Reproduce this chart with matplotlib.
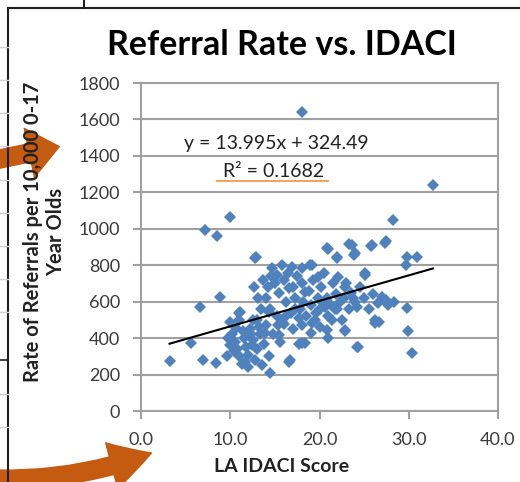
import numpy as np
import matplotlib
matplotlib.use("Agg")
import matplotlib.pyplot as plt
from matplotlib.patches import FancyArrowPatch
from matplotlib.lines import Line2D

plt.rcParams['font.family'] = ['Lato', 'DejaVu Sans']

# LA IDACI score and referral rate per 10,000
idaci = [18.0, 32.7, 28.2, 27.5, 25.8, 23.3, 23.9, 21.0, 22.0, 19.2, 29.8, 30.9, 29.7,
         29.8, 25.1, 27.5, 29.9, 30.4, 24.2, 26.2, 16.7, 14.5, 17.7, 15.6, 20.8, 22.9,
         10.0, 7.2, 8.5, 6.6, 8.9, 3.2, 5.6, 6.9, 8.4, 12.9, 12.7, 13.1, 11.0, 10.0,
         10.2, 10.5, 10.8, 11.0, 11.3, 10.6, 11.5, 11.8, 12.0, 12.2, 12.5, 12.8, 13.0,
         13.3, 13.6, 13.8, 14.0, 14.3, 12.0, 11.0, 10.0, 9.8, 12.6, 13.2, 14.8, 11.6,
         12.8, 14.7, 15.2, 16.6, 18.0, 18.4, 11.1, 14.3, 15.8, 17.7, 16.6, 18.0, 15.5,
         20.8, 23.6, 25.9, 27.3, 22.0, 24.0, 18.9, 25.1, 19.8, 22.1, 22.9, 27.0, 27.7,
         26.2, 24.3, 24.2, 20.6, 21.4, 22.9, 19.2, 18.4,
         15.0, 15.5, 16.0, 16.2, 16.5, 16.8, 17.0, 17.3, 17.5, 17.8, 18.0, 18.2, 18.5,
         18.8, 19.0, 19.3, 19.5, 19.8, 20.0, 20.2, 20.5, 20.8, 21.0, 21.3, 21.5, 21.8,
         22.0, 22.3, 22.5, 22.8, 23.0, 23.3, 23.5, 24.0, 24.5, 25.0, 25.5, 26.0, 16.0,
         17.0, 18.0, 19.0, 20.0, 21.0, 14.5, 14.0, 15.2, 13.5, 13.0, 14.2, 15.8, 14.6,
         16.9, 13.7, 28.3, 26.7, 26.5, 9.6, 10.4, 12.3, 11.4, 12.4, 13.9, 15.3, 16.3,
         17.2, 19.6, 20.4, 21.7, 23.8]
rate = [1640, 1240, 1048, 933, 906, 916, 856, 889, 840, 801, 845, 845, 801,
        565, 746, 609, 439, 318, 351, 483, 280, 209, 368, 379, 445, 439,
        1065, 993, 960, 571, 625, 274, 373, 280, 263, 845, 681, 620, 538, 488,
        420, 380, 340, 300, 260, 455, 400, 350, 310, 450, 390, 280, 340,
        420, 250, 370, 470, 300, 240, 500, 360, 400, 500, 460, 420, 270,
        840, 785, 746, 675, 785, 653, 543, 543, 488, 510, 269, 373, 417,
        895, 911, 911, 922, 845, 867, 801, 757, 735, 735, 681, 626, 582,
        499, 351, 571, 571, 499, 445, 483, 373,
        700, 650, 720, 600, 760, 540, 680, 620, 740, 560, 700, 600, 520,
        660, 580, 720, 500, 620, 560, 680, 760, 620, 520, 580, 700, 640,
        560, 600, 500, 620, 700, 560, 650, 600, 680, 620, 560, 640, 480,
        450, 470, 430, 460, 400, 560, 620, 520, 560, 500, 680, 800, 740,
        790, 720, 600, 490, 590, 300, 330, 420, 440, 360, 430, 470, 520,
        560, 540, 590, 560, 620]

slope = 13.995
intercept = 324.49
r_squared = 0.1682

x_ticks = [0, 10, 20, 30, 40]
y_ticks = [0, 200, 400, 600, 800, 1000, 1200, 1400, 1600, 1800]

W, H = 520, 482
fig = plt.figure(figsize=(W / 100, H / 100), dpi=100)


def fx(px):
    return px / W


def fy(py):
    return 1 - py / H


ax = fig.add_axes([fx(141), fy(411), fx(498) - fx(141), fy(83) - fy(411)])
grid_c = '#A0A0A0'
ax.set_xlim(0, 40)
ax.set_ylim(0, 1800)
ax.set_xticks(x_ticks)
ax.set_yticks(y_ticks)
ax.set_xticklabels(['%.1f' % t for t in x_ticks])
ax.grid(axis='y', color=grid_c, linewidth=1.5)
ax.set_axisbelow(True)
for s in ax.spines.values():
    s.set_color(grid_c)
    s.set_linewidth(1.5)
ax.tick_params(colors=grid_c, labelcolor='#3a3a3a', labelsize=13,
               length=6, width=1.5, direction='out')
ax.tick_params(axis='x', pad=9)
ax.tick_params(axis='y', pad=9)

ax.plot(idaci, rate, linestyle='none', marker='D', ms=6.6,
        color='#4F81BD', markeredgewidth=0, zorder=3)

xs = np.array([min(idaci), max(idaci)])
ax.plot(xs, slope * xs + intercept, color='black', lw=1.5, zorder=4)

fig.text(fx(276), fy(144), 'y = %.3fx + %.2f' % (slope, intercept),
         ha='center', va='center', fontsize=14, color='#222222')
fig.text(fx(274), fy(171), 'R² = %.4f' % r_squared,
         ha='center', va='center', fontsize=14, color='#222222')
fig.add_artist(Line2D([fx(217), fx(328)], [fy(181), fy(181)], color='#F4A460', lw=1.5))

fig.text(fx(282), fy(467), 'LA IDACI Score', ha='center', va='center',
         fontsize=14, fontweight='bold', color='#222222')
fig.text(fx(45), fy(232), 'Rate of Referrals per 10,000 0-17\nYear Olds', rotation=90,
         ha='center', va='center', multialignment='center', fontsize=14.5,
         fontweight='bold', color='#222222', linespacing=1.2)

fig.text(fx(282), fy(45), 'Referral Rate vs. IDACI', ha='center', va='center',
         fontsize=24.5, fontweight='bold', color='black')

# chart frame and spreadsheet bits
fig.add_artist(Line2D([fx(8), fx(8)], [fy(8), 0], color='#202020', lw=1.5))
fig.add_artist(Line2D([fx(8), 1], [fy(8), fy(8)], color='#202020', lw=1.5))
fig.add_artist(Line2D([fx(84), fx(84)], [1, fy(8)], color='#202020', lw=1.5))
fig.add_artist(Line2D([0, fx(8)], [fy(360), fy(360)], color='#202020', lw=1.2))
for gy in [47, 80, 113, 146, 180, 213, 246, 279, 312, 394, 427]:
    fig.add_artist(Line2D([0, fx(8)], [fy(gy), fy(gy)], color='#D0D0D0', lw=1))

arrow_c = '#C55A11'
fig.add_artist(FancyArrowPatch((fx(-5), fy(160)), (fx(62), fy(146)), transform=fig.transFigure,
                               arrowstyle='simple,head_length=2.2,head_width=3.6,tail_width=1.3',
                               mutation_scale=10, color=arrow_c))
fig.add_artist(FancyArrowPatch((fx(-5), fy(479)), (fx(154), fy(452)), transform=fig.transFigure,
                               connectionstyle='arc3,rad=0.1',
                               arrowstyle='simple,head_length=3.0,head_width=3.4,tail_width=1.3',
                               mutation_scale=10, color=arrow_c))

fig.savefig('out.png', dpi=100, facecolor='white')
